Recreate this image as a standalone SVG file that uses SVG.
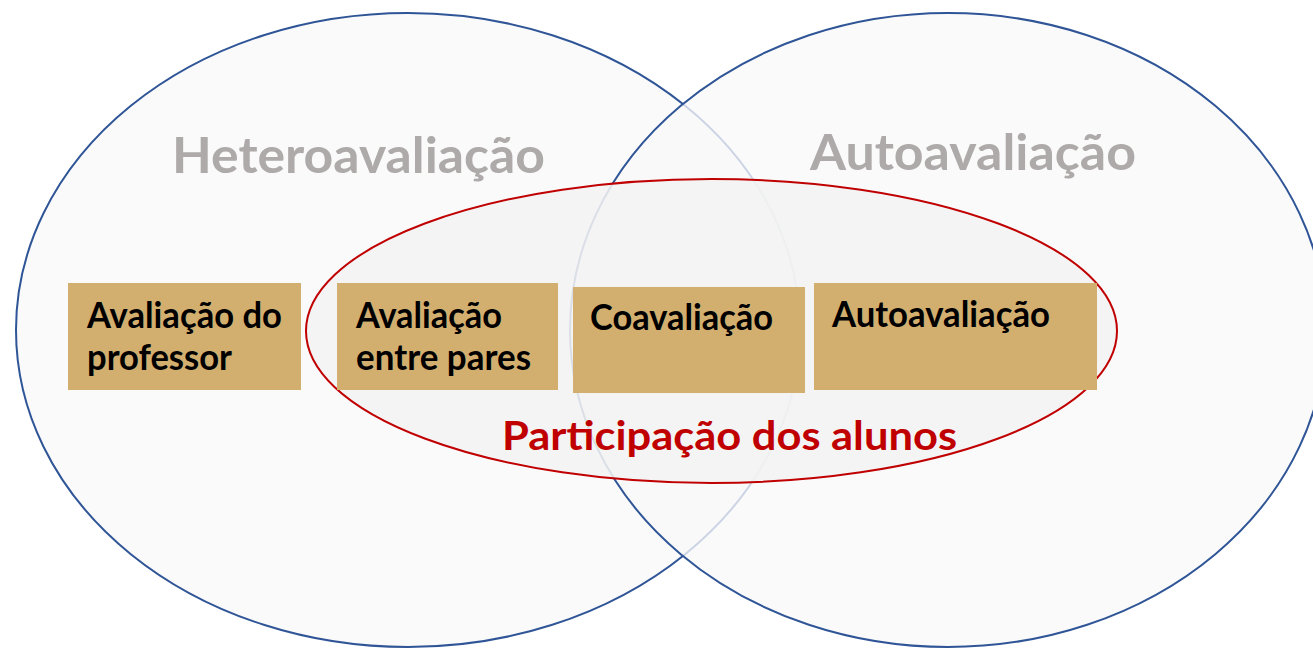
<svg xmlns="http://www.w3.org/2000/svg" width="1313" height="648" viewBox="0 0 1313 648">
<style>
.circ{fill:#f9f9fa;fill-opacity:0.78;stroke:#2f5597;stroke-width:2}
.part{fill:#f3f3f3;fill-opacity:0.88;stroke:#c00000;stroke-width:2}
.box{fill:#d3af6f}
.big{font-family:Lato,"Liberation Sans",sans-serif;font-weight:bold;font-size:50px;fill:#aeaaaa}
.lbl{font-family:Lato,"Liberation Sans",sans-serif;font-weight:bold;font-size:36px;fill:#000}
.red{font-family:Lato,"Liberation Sans",sans-serif;font-weight:bold;font-size:40px;fill:#c00000}
</style>
<rect width="1313" height="648" fill="#fff"/>
<g id="hetero">
<ellipse class="circ" cx="408" cy="330" rx="392" ry="317"/>
<text class="big" x="172" y="173" textLength="373" lengthAdjust="spacingAndGlyphs">Heteroavaliação</text>
</g>
<g id="auto">
<ellipse class="circ" cx="948" cy="330" rx="378" ry="317"/>
<text class="big" x="810" y="170" textLength="326" lengthAdjust="spacingAndGlyphs">Autoavaliação</text>
</g>
<g id="participacao">
<ellipse class="part" cx="711.5" cy="331" rx="405.5" ry="152"/>
<text class="red" x="502" y="450" textLength="455" lengthAdjust="spacingAndGlyphs">Participação dos alunos</text>
</g>
<g id="connectors"></g>
<g id="box-professor">
<rect class="box" x="68" y="283" width="233" height="107"/>
<text class="lbl" x="87" y="328" textLength="195" lengthAdjust="spacingAndGlyphs">Avaliação do</text>
<text class="lbl" x="87" y="370" textLength="145" lengthAdjust="spacingAndGlyphs">professor</text>
</g>
<g id="box-pares">
<rect class="box" x="337" y="283" width="221" height="107"/>
<text class="lbl" x="356" y="328" textLength="146" lengthAdjust="spacingAndGlyphs">Avaliação</text>
<text class="lbl" x="356" y="370" textLength="175" lengthAdjust="spacingAndGlyphs">entre pares</text>
</g>
<g id="box-coavaliacao">
<rect class="box" x="573" y="287" width="232" height="106"/>
<text class="lbl" x="590" y="330" textLength="183" lengthAdjust="spacingAndGlyphs">Coavaliação</text>
</g>
<g id="box-autoavaliacao">
<rect class="box" x="814" y="283" width="283" height="107"/>
<text class="lbl" x="832" y="327" textLength="218" lengthAdjust="spacingAndGlyphs">Autoavaliação</text>
</g>
</svg>
